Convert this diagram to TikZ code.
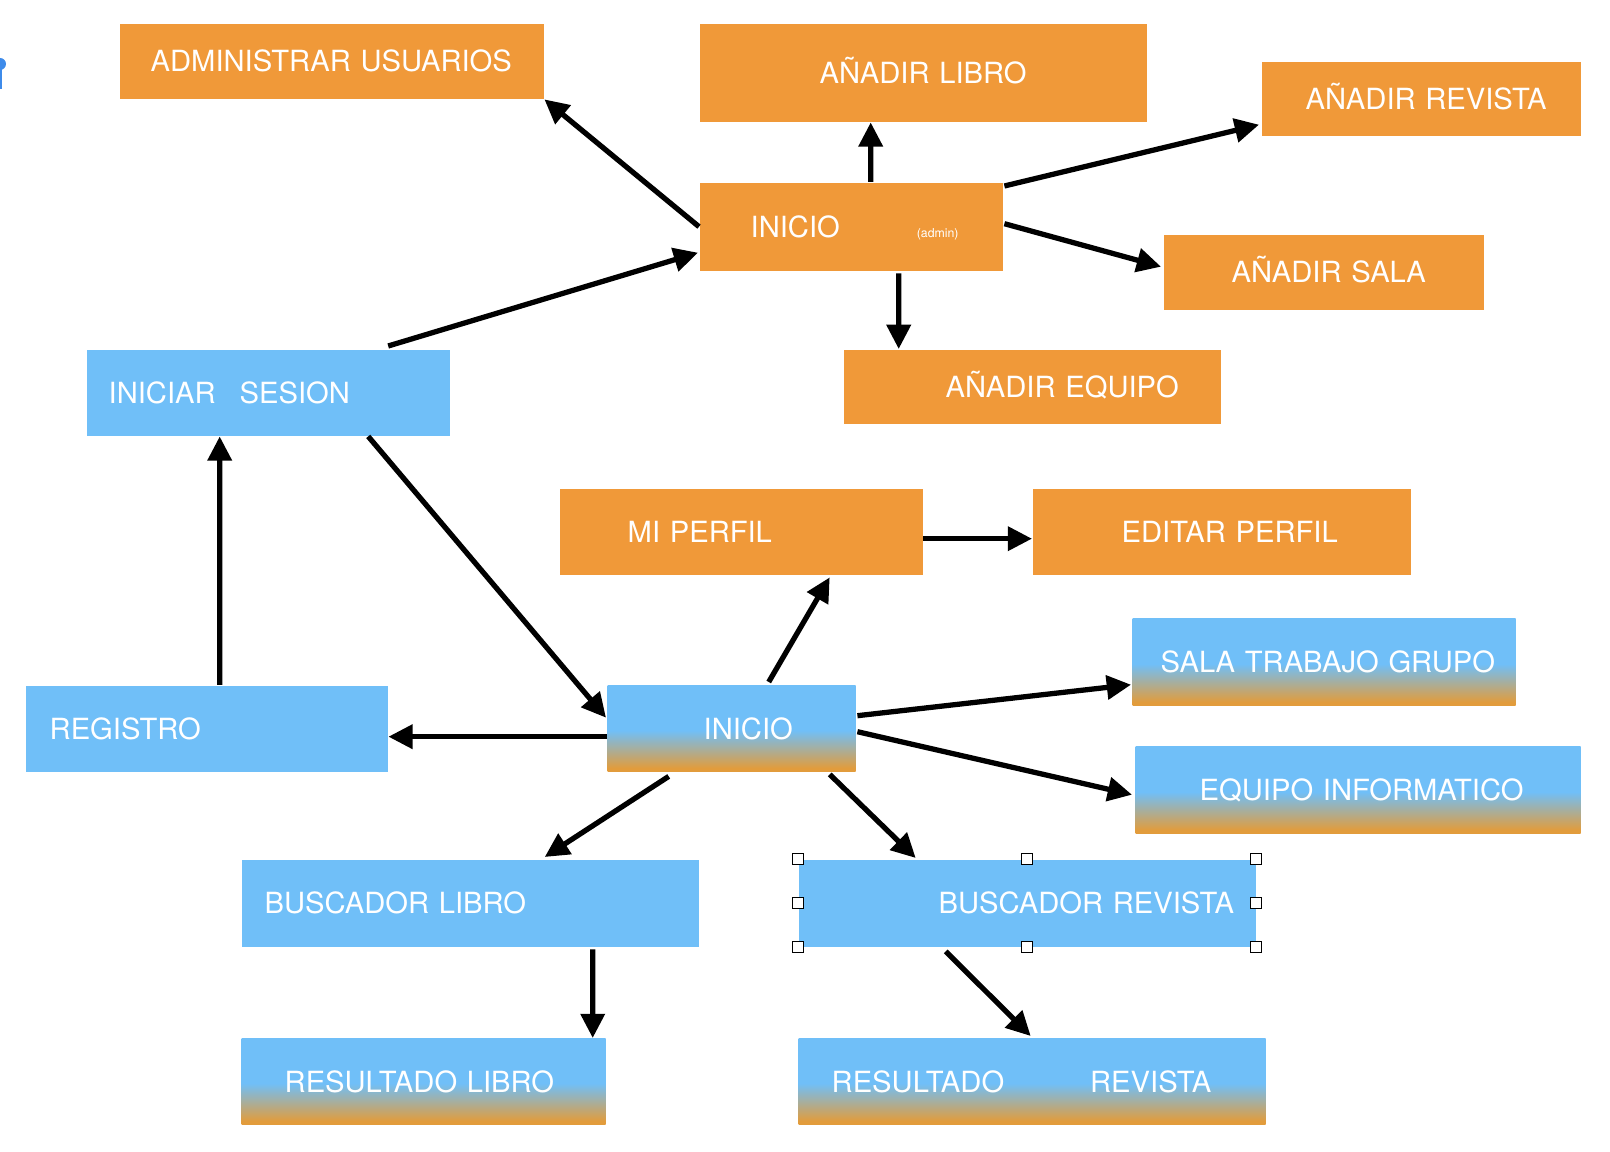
\documentclass[tikz,border=0pt]{standalone}
\usepackage{fontspec}
\setmainfont{TeX Gyre Heros}
\usepackage{tikz}
\usetikzlibrary{arrows.meta}
\usepackage{xcolor}

\definecolor{boxOrange}{RGB}{240,153,57}
\definecolor{boxBlue}{RGB}{112,191,248}
\definecolor{fadeOrange}{RGB}{226,156,60}
\definecolor{pinBlue}{RGB}{62,139,234}
\pgfdeclareverticalshading{skyfade}{100bp}{color(0bp)=(fadeOrange); color(27bp)=(fadeOrange); color(49bp)=(boxBlue); color(100bp)=(boxBlue)}

\begin{document}
\begin{tikzpicture}[x=0.1mm, y=-0.1mm,
    box/.style={anchor=north west, inner xsep=0pt, inner ysep=0pt, align=left, text=white,
        font=\fontsize{8.3}{9.9}\selectfont, text height=6pt, text depth=0pt},
    obox/.style={box, fill=boxOrange},
    bbox/.style={box, fill=boxBlue},
    gbox/.style={box, shading=skyfade},
    arr/.style={-{Triangle[length=6.9pt, width=6.7pt]}, line width=1.5pt},
    handle/.style={draw=black, fill=white, line width=0.3pt}]
    \useasboundingbox (0,0) rectangle (1610,1152);
    \fill[pinBlue] (0,64) circle (6);
    \fill[pinBlue] (0,64) rectangle (2.2,89);

    \node[obox, text width=42.4mm, minimum height=7.5mm] (admUsr) at (119,23) {\hspace*{3.1mm}ADMINISTRAR USUARIOS};
    \node[obox, text width=44.7mm, minimum height=9.8mm] (anLib) at (699,23) {\hspace*{12mm}AÑADIR LIBRO};
    \node[obox, text width=31.9mm, minimum height=7.4mm] (anRev) at (1261,61) {\hspace*{4.4mm}AÑADIR REVISTA};
    \node[obox, text width=30.3mm, minimum height=8.8mm] (iniAdm) at (699,182) {\hspace*{5.1mm}INICIO\hspace*{7.7mm}{\fontsize{3.5}{4}\selectfont(admin)}};
    \node[obox, text width=32mm, minimum height=7.5mm] (anSala) at (1163,234) {\hspace*{6.8mm}AÑADIR SALA};
    \node[obox, text width=37.7mm, minimum height=7.4mm] (anEq) at (843,349) {\hspace*{10.2mm}AÑADIR EQUIPO};
    \node[bbox, text width=36.3mm, minimum height=8.6mm] (iniSes) at (86,349) {\hspace*{2.2mm}INICIAR\hspace*{2.4mm}SESION};
    \node[obox, text width=36.3mm, minimum height=8.6mm] (miPerfil) at (559,488) {\hspace*{6.8mm}MI PERFIL};
    \node[obox, text width=37.8mm, minimum height=8.6mm] (ediPerfil) at (1032,488) {\hspace*{8.9mm}EDITAR PERFIL};
    \node[gbox, text width=38.3mm, minimum height=8.7mm] (salaTG) at (1132,618) {\hspace*{2.8mm}SALA TRABAJO GRUPO};
    \node[bbox, text width=36.2mm, minimum height=8.6mm] (registro) at (25,685) {\hspace*{2.4mm}REGISTRO};
    \node[gbox, text width=24.8mm, minimum height=8.6mm] (iniUsr) at (607,685) {\hspace*{9.6mm}INICIO};
    \node[gbox, text width=44.5mm, minimum height=8.7mm] (eqInf) at (1135,746) {\hspace*{6.4mm}EQUIPO INFORMATICO};
    \node[bbox, text width=45.7mm, minimum height=8.7mm] (busLib) at (241,859) {\hspace*{2.3mm}BUSCADOR LIBRO};
    \node[bbox, text width=45.7mm, minimum height=8.7mm] (busRev) at (798,859) {\hspace*{14mm}BUSCADOR REVISTA};
    \node[gbox, text width=36.4mm, minimum height=8.6mm] (resLib) at (241,1038) {\hspace*{4.3mm}RESULTADO LIBRO};
    \node[gbox, text width=46.7mm, minimum height=8.6mm] (resRev) at (798,1038) {\hspace*{3.3mm}RESULTADO\hspace*{8.6mm}REVISTA};

    \foreach \a in {north west, north, north east, east, south east, south, south west, west}
        \filldraw[handle] ([shift={(-5.5,-5.5)}]busRev.\a) rectangle +(11,11);

    \draw[arr] (iniAdm.west) -- (admUsr.south east);
    \draw[arr] ([shift={(19.5,0)}]iniAdm.north) -- ([shift={(-52.5,0)}]anLib.south);
    \draw[arr] ([shift={(1,4)}]iniAdm.north east) -- ([shift={(-2,26)}]anRev.west);
    \draw[arr] ([shift={(1,-3)}]iniAdm.east) -- ([shift={(-2,-5.5)}]anSala.west);
    \draw[arr] ([shift={(47.5,2)}]iniAdm.south) -- ([shift={(-133.5,0)}]anEq.north);
    \draw[arr] ([shift={(120,-3)}]iniSes.north) -- ([shift={(-1,26)}]iniAdm.west);
    \draw[arr] ([shift={(100,0)}]iniSes.south) -- ([shift={(-1,-11)}]iniUsr.west);
    \draw[arr] ([shift={(13,0)}]registro.north) -- ([shift={(-48.5,0)}]iniSes.south);
    \draw[arr] ([shift={(0,8)}]iniUsr.west) -- ([shift={(0,8)}]registro.east);
    \draw[arr] ([shift={(37,-3)}]iniUsr.north) -- ([shift={(88.5,2)}]miPerfil.south);
    \draw[arr] ([shift={(0,7)}]miPerfil.east) -- ([shift={(0,7)}]ediPerfil.west);
    \draw[arr] ([shift={(1,-13)}]iniUsr.east) -- ([shift={(-1,22.5)}]salaTG.west);
    \draw[arr] ([shift={(1,3)}]iniUsr.east) -- ([shift={(-3,4.5)}]eqInf.west);
    \draw[arr] ([shift={(-63,4)}]iniUsr.south) -- ([shift={(74.5,-2)}]busLib.north);
    \draw[arr] ([shift={(98,2)}]iniUsr.south) -- ([shift={(-111.5,-1)}]busRev.north);
    \draw[arr] ([shift={(122.5,2)}]busLib.south) -- ([shift={(169,0)}]resLib.north);
    \draw[arr] ([shift={(-81.5,4)}]busRev.south) -- ([shift={(-1.5,-2)}]resRev.north);
\end{tikzpicture}
\end{document}
